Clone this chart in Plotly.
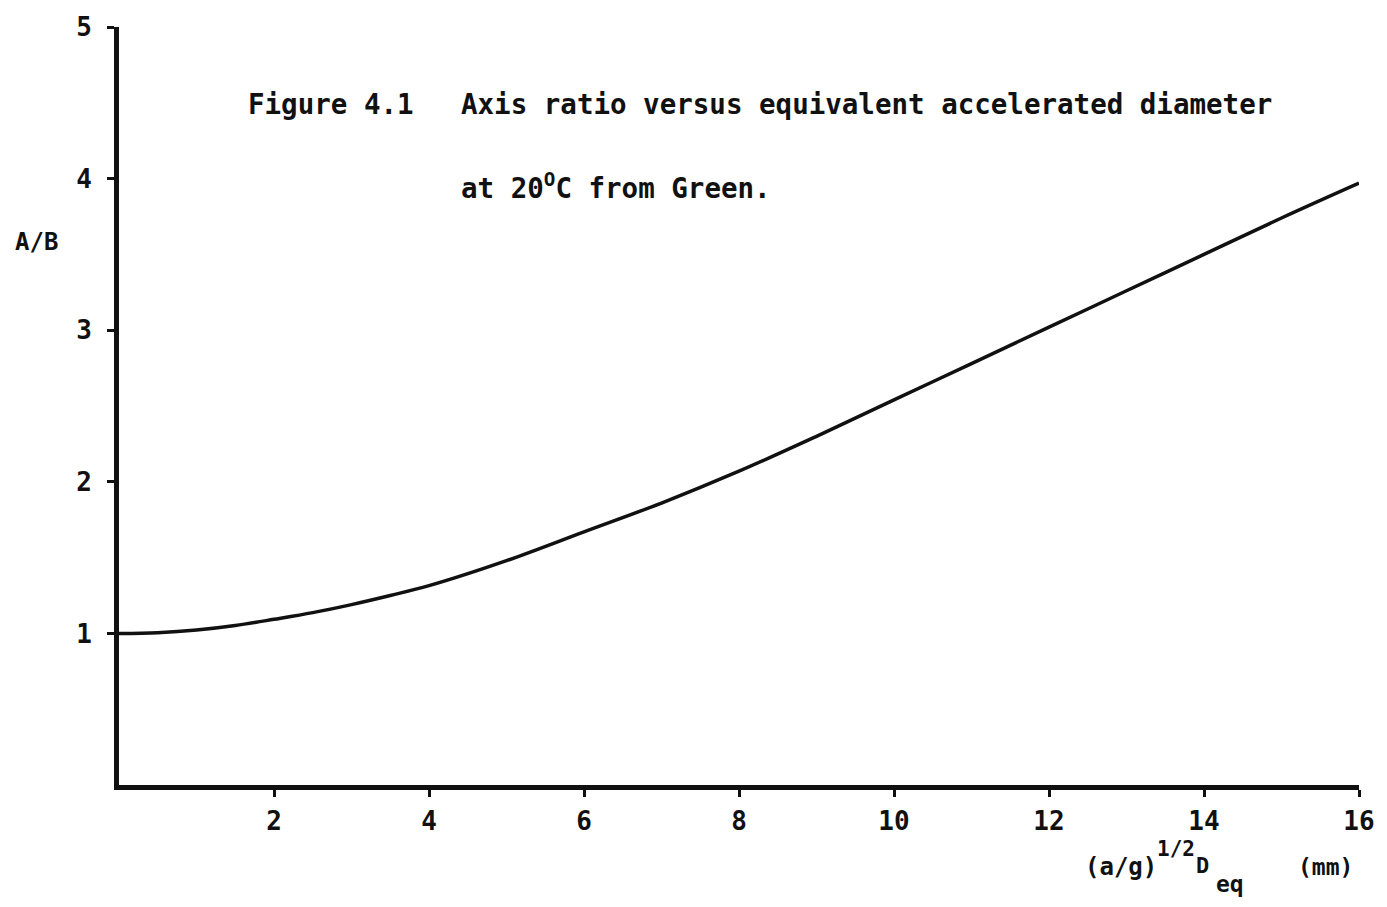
import plotly.graph_objects as go

# Equivalent accelerated diameter (mm) and axis ratio A/B
diameter = [0, 0.5, 1, 1.5, 2, 2.5, 3, 3.5, 4, 5, 6, 7, 8, 9, 10,
            11, 12, 13, 14, 15, 16]
axis_ratio = [1.00, 1.005, 1.022, 1.052, 1.093, 1.137, 1.19, 1.25, 1.315,
              1.48, 1.67, 1.86, 2.07, 2.30, 2.54, 2.78, 3.02, 3.26, 3.50,
              3.74, 3.97]

x_ticks = [2, 4, 6, 8, 10, 12, 14, 16]
y_ticks = [1, 2, 3, 4, 5]

FONT = "DejaVu Sans Mono"
INK = "#111111"

# plot area in pixels: x 119..1362, y 20..785
L, R, T, B = 119, 1362, 20, 785


def px(xp):
    return (xp - L) / (R - L)


def py(yp):
    return (B - yp) / (B - T)


fig = go.Figure()
fig.add_trace(go.Scatter(
    x=diameter, y=axis_ratio, mode="lines",
    line=dict(color=INK, width=3.5, shape="spline", smoothing=1.0),
    hoverinfo="skip", showlegend=False,
))

axis_common = dict(
    showgrid=False, zeroline=False, showline=True,
    linecolor=INK, linewidth=5,
    ticks="outside", tickcolor=INK, tickwidth=3, ticklen=7,
    tickfont=dict(family=FONT, size=26, color=INK, weight="bold"),
    fixedrange=True,
)

fig.update_xaxes(range=[0, 16], tickvals=x_ticks,
                 ticktext=[str(v) for v in x_ticks], ticklabelstandoff=2,
                 **axis_common)
fig.update_yaxes(range=[0, 5], tickvals=y_ticks,
                 ticktext=[str(v) for v in y_ticks], ticklabelstandoff=10,
                 **axis_common)


def label(text, xp, yp, size, anchor="left"):
    fig.add_annotation(text=text, xref="paper", yref="paper",
                       x=px(xp), y=py(yp), xanchor=anchor, yanchor="middle",
                       showarrow=False,
                       font=dict(family=FONT, size=size, color=INK,
                                 weight="bold"))


# Caption
label("Figure 4.1", 246, 98, 27.5)
label("Axis ratio versus equivalent accelerated diameter", 460, 98, 27.5)
label("at 20<sup>O</sup>C from Green.", 460, 180, 27.5)

# Axis titles
label("A/B", 36, 237, 24, anchor="center")
label("(a/g)", 1085, 868, 24)
label("1/2", 1158, 850, 21)
label("D", 1197, 866, 22)
label("eq", 1217, 885, 23)
label("(mm)", 1299, 868, 23)

fig.update_layout(
    width=1387, height=907,
    margin=dict(l=L, r=1387 - R, t=T, b=907 - B),
    paper_bgcolor="white", plot_bgcolor="white",
    showlegend=False,
)

fig.write_html("out.html", config={"displayModeBar": False})
